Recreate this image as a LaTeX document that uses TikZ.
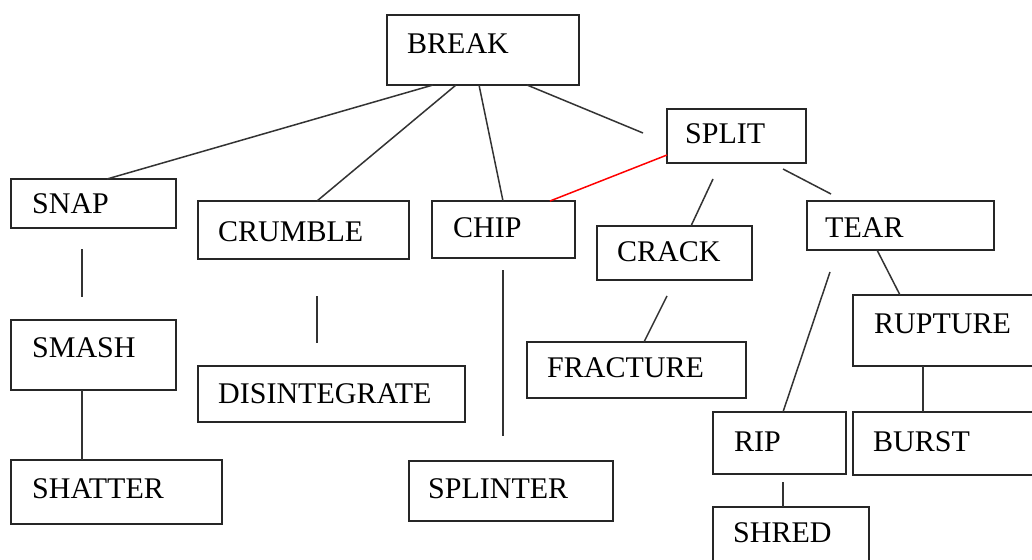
\documentclass[tikz,border=0pt]{standalone}
\usepackage{fontspec}
\setmainfont{Liberation Serif}
\usetikzlibrary{calc}
\begin{document}
\begin{tikzpicture}[x=1pt,y=-1pt,
  box/.style={draw=black!85,line width=1.6pt,anchor=north west,inner sep=0pt,outer sep=0pt},
  lbl/.style={anchor=base west,inner sep=0pt,font=\fontsize{30}{30}\selectfont},
  conn/.style={draw=black!80,line width=1.5pt},
  redconn/.style={draw=red,line width=1.5pt}]
\useasboundingbox (0,0) rectangle (1032,559);
\clip (0,0) rectangle (1032,559);
\fill[white] (0,0) rectangle (1032,559);
% boxes
\node[box,minimum width=192pt,minimum height=70pt] (break) at (387,15) {};
\node[box,minimum width=139pt,minimum height=54pt] (split) at (667,109) {};
\node[box,minimum width=165pt,minimum height=49pt] (snap) at (11,179) {};
\node[box,minimum width=211pt,minimum height=58pt] (crumble) at (198,201) {};
\node[box,minimum width=143pt,minimum height=57pt] (chip) at (432,201) {};
\node[box,minimum width=155pt,minimum height=54pt] (crack) at (597,226) {};
\node[box,minimum width=187pt,minimum height=49pt] (tear) at (807,201) {};
\node[box,minimum width=165pt,minimum height=70pt] (smash) at (11,320) {};
\node[box,minimum width=267pt,minimum height=56pt] (disint) at (198,366) {};
\node[box,minimum width=219pt,minimum height=56pt] (fracture) at (527,342) {};
\node[box,minimum width=190pt,minimum height=71pt] (rupture) at (853,295) {};
\node[box,minimum width=133pt,minimum height=62pt] (rip) at (713,412) {};
\node[box,minimum width=190pt,minimum height=63pt] (burst) at (853,412) {};
\node[box,minimum width=211pt,minimum height=64pt] (shatter) at (11,460) {};
\node[box,minimum width=204pt,minimum height=60pt] (splinter) at (409,461) {};
\node[box,minimum width=156pt,minimum height=70pt] (shred) at (713,507) {};
% labels
\node[lbl] (tbreak) at (407,54) {BREAK};
\node[lbl] (tsplit) at (685,143) {SPLIT};
\node[lbl] (tsnap) at (32,213) {SNAP};
\node[lbl] (tcrumble) at (218,241) {CRUMBLE};
\node[lbl] (tchip) at (453,237) {CHIP};
\node[lbl] (tcrack) at (617,261) {CRACK};
\node[lbl] (ttear) at (825,237) {TEAR};
\node[lbl] (tsmash) at (32,357) {SMASH};
\node[lbl] (tdisint) at (218,403) {DISINTEGRATE};
\node[lbl] (tfracture) at (547,377) {FRACTURE};
\node[lbl] (trupture) at (874,333) {RUPTURE};
\node[lbl] (trip) at (734,451) {RIP};
\node[lbl] (tburst) at (873,451) {BURST};
\node[lbl] (tshatter) at (32,498) {SHATTER};
\node[lbl] (tsplinter) at (428,498) {SPLINTER};
\node[lbl] (tshred) at (733,542) {SHRED};
% free connector ends
\coordinate (e1) at (643,133);
\coordinate (e2) at (713,179);
\coordinate (e3a) at (783,169);
\coordinate (e3b) at (831,194);
\coordinate (e4) at (667,296);
\coordinate (e5) at (830,272);
\coordinate (e6) at (783,482);
\coordinate (e7a) at (82,249);
\coordinate (e7b) at (82,297);
\coordinate (e8a) at (317,296);
\coordinate (e8b) at (317,343);
\coordinate (e9a) at (503,270);
\coordinate (e9b) at (503,436);
% connectors
\draw[conn] ([xshift=46pt]break.south west) -- ([xshift=96pt]snap.north west);
\draw[conn] ([xshift=69pt]break.south west) -- ([xshift=119pt]crumble.north west);
\draw[conn] ([xshift=92pt]break.south west) -- ([xshift=71pt]chip.north west);
\draw[conn] ([xshift=140pt]break.south west) -- (e1);
\draw[redconn] ([yshift=8pt]split.south west) -- ([xshift=118pt]chip.north west);
\draw[conn] (e2) -- ([xshift=94pt]crack.north west);
\draw[conn] (e3a) -- (e3b);
\draw[conn] (e4) -- ([xshift=117pt]fracture.north west);
\draw[conn] ([xshift=70pt]tear.south west) -- ([xshift=47pt]rupture.north west);
\draw[conn] (e5) -- ([xshift=70pt]rip.north west);
\draw[conn] ([xshift=70pt]rupture.south west) -- ([xshift=70pt]burst.north west);
\draw[conn] (e6) -- ([xshift=70pt]shred.north west);
\draw[conn] (e7a) -- (e7b);
\draw[conn] ([xshift=71pt]smash.south west) -- ([xshift=71pt]shatter.north west);
\draw[conn] (e8a) -- (e8b);
\draw[conn] (e9a) -- (e9b);
\end{tikzpicture}
\end{document}
